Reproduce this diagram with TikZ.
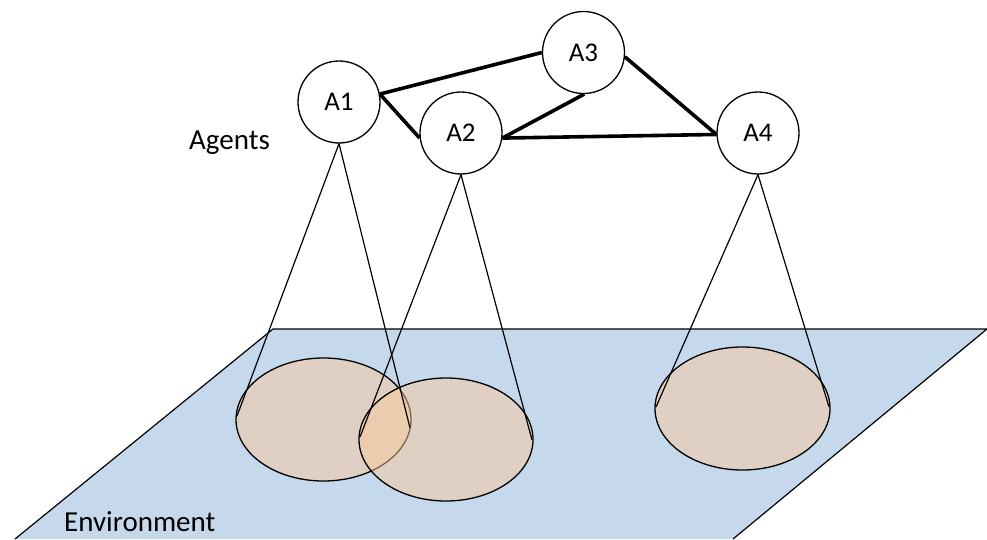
\documentclass[tikz,border=0pt]{standalone}
\usepackage{fontspec}
\setmainfont{Carlito}
\definecolor{envblue}{RGB}{197,216,236}
\definecolor{spot}{RGB}{249,202,156}
\tikzset{
  agent/.style={circle, draw=black, line width=1.3pt, fill=white, minimum size=82pt, inner sep=0pt, font=\fontsize{27}{32}\selectfont},
  link/.style={line width=3.6pt},
  cone/.style={line width=1.2pt},
  spotarea/.style={draw=black, line width=1.3pt, fill=spot, fill opacity=0.5},
  lbl/.style={inner sep=0pt, anchor=base west, font=\fontsize{29}{34}\selectfont}
}
\begin{document}
\begin{tikzpicture}[x=1pt,y=-1pt]
\useasboundingbox (0,0) rectangle (987,539);
% environment plane
\fill[envblue] (15,539) -- (273,329) -- (987,329) -- (733,539) -- cycle;
\draw[line width=1.2pt] (15,539) -- (273,329) -- (987,329) -- (733,539);
% perception areas
\draw[spotarea] (323.5,419.5) ellipse [x radius=87.5pt, y radius=61.5pt];
\draw[spotarea] (446,439.5) ellipse [x radius=87pt, y radius=61.5pt];
\draw[spotarea] (742.5,408.5) ellipse [x radius=87.5pt, y radius=61.5pt];
% agents
\node[agent] (A1) at (339,102) {A1};
\node[agent] (A2) at (461,133) {A2};
\node[agent] (A3) at (583.5,52.5) {A3};
\node[agent] (A4) at (758,133) {A4};
% cone end points
\coordinate (c1l) at (237,416);
\coordinate (c1r) at (410,428);
\coordinate (c2l) at (360,437);
\coordinate (c2r) at (532,440);
\coordinate (c4l) at (656,407);
\coordinate (c4r) at (829,407);
\draw[cone] (c1l) -- (A1.south) -- (c1r);
\draw[cone] (c2l) -- (A2.south) -- (c2r);
\draw[cone] (c4l) -- (A4.south) -- (c4r);
% links
\draw[link] (A1.11) -- (A3.180);
\draw[link] (A1.11) -- (A2.187);
\draw[link] (A2.-7) -- (A3.-89);
\draw[link] (A2.-7) -- (A4.182);
\draw[link] (A3.-6) -- (A4.182);
% labels
\node[lbl] (agents) at (189,149) {Agents};
\node[lbl] (env) at (64,531) {Environment};
\end{tikzpicture}
\end{document}
